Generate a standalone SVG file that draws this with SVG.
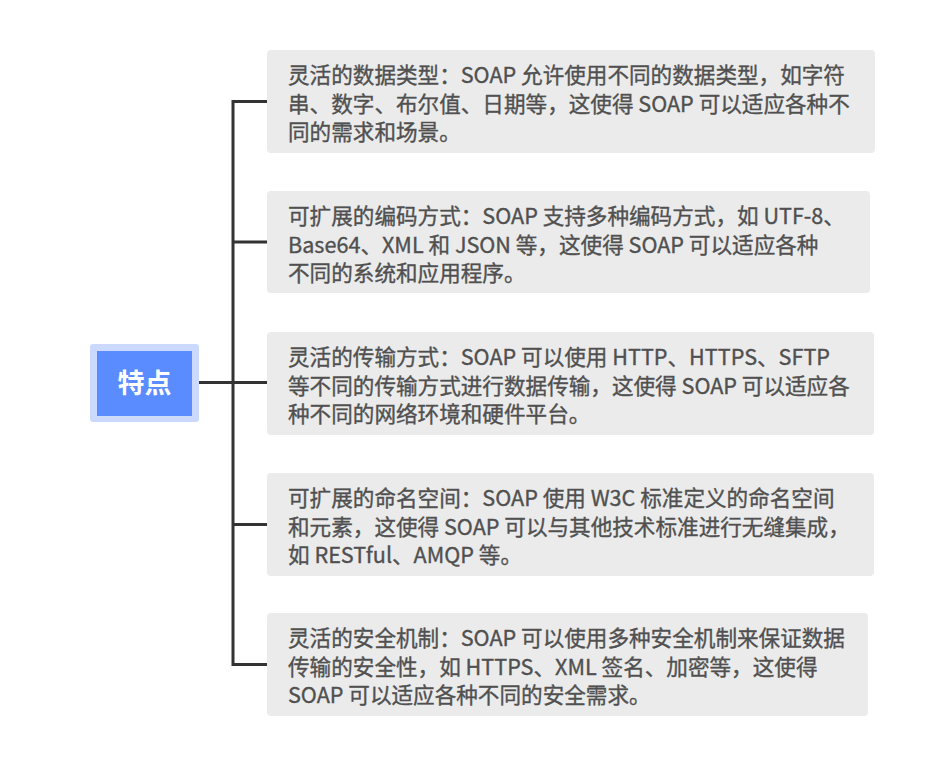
<svg xmlns="http://www.w3.org/2000/svg" width="952" height="762" viewBox="0 0 952 762">
<style>
.box{fill:#ebebeb}
.t{font-family:"Noto Sans CJK SC","Noto Sans",sans-serif;font-size:21.6px;fill:#505050;stroke:#505050;stroke-width:0.35}
.conn{fill:none;stroke:#333333;stroke-width:3}
.root-t{font-family:"Noto Sans CJK SC","Noto Sans",sans-serif;font-size:27px;font-weight:bold;fill:#ffffff}
</style>
<rect width="952" height="762" fill="#ffffff"/>
<g id="connectors">
<path class="conn" d="M199,382.5 H267"/>
<path class="conn" d="M267,101.5 H233 V664.5 H267"/>
<path class="conn" d="M233,242 H267"/>
<path class="conn" d="M233,524.5 H267"/>
</g>
<g id="root">
<rect x="90" y="344" width="109" height="78" rx="3" fill="#ccd9ff"/>
<rect x="97" y="351" width="95" height="65" fill="#5a8cff"/>
<text class="root-t" x="144.5" y="393" text-anchor="middle">特点</text>
</g>
<g id="n1">
<rect class="box" x="267" y="50" width="608" height="103" rx="4"/>
<text class="t" x="288" y="83">灵活的数据类型：SOAP 允许使用不同的数据类型，如字符</text>
<text class="t" x="288" y="111.5">串、数字、布尔值、日期等，这使得 SOAP 可以适应各种不</text>
<text class="t" x="288" y="140">同的需求和场景。</text>
</g>
<g id="n2">
<rect class="box" x="267" y="191" width="603" height="102" rx="4"/>
<text class="t" x="288" y="224">可扩展的编码方式：SOAP 支持多种编码方式，如 UTF-8、</text>
<text class="t" x="288" y="252.5">Base64、XML 和 JSON 等，这使得 SOAP 可以适应各种</text>
<text class="t" x="288" y="281">不同的系统和应用程序。</text>
</g>
<g id="n3">
<rect class="box" x="267" y="332" width="607" height="103" rx="4"/>
<text class="t" x="288" y="365">灵活的传输方式：SOAP 可以使用 HTTP、HTTPS、SFTP</text>
<text class="t" x="288" y="393.5">等不同的传输方式进行数据传输，这使得 SOAP 可以适应各</text>
<text class="t" x="288" y="422">种不同的网络环境和硬件平台。</text>
</g>
<g id="n4">
<rect class="box" x="267" y="473" width="607" height="103" rx="4"/>
<text class="t" x="288" y="506">可扩展的命名空间：SOAP 使用 W3C 标准定义的命名空间</text>
<text class="t" x="288" y="534.5">和元素，这使得 SOAP 可以与其他技术标准进行无缝集成，</text>
<text class="t" x="288" y="563">如 RESTful、AMQP 等。</text>
</g>
<g id="n5">
<rect class="box" x="267" y="613" width="601" height="103" rx="4"/>
<text class="t" x="288" y="646">灵活的安全机制：SOAP 可以使用多种安全机制来保证数据</text>
<text class="t" x="288" y="674.5">传输的安全性，如 HTTPS、XML 签名、加密等，这使得</text>
<text class="t" x="288" y="703">SOAP 可以适应各种不同的安全需求。</text>
</g>
</svg>
